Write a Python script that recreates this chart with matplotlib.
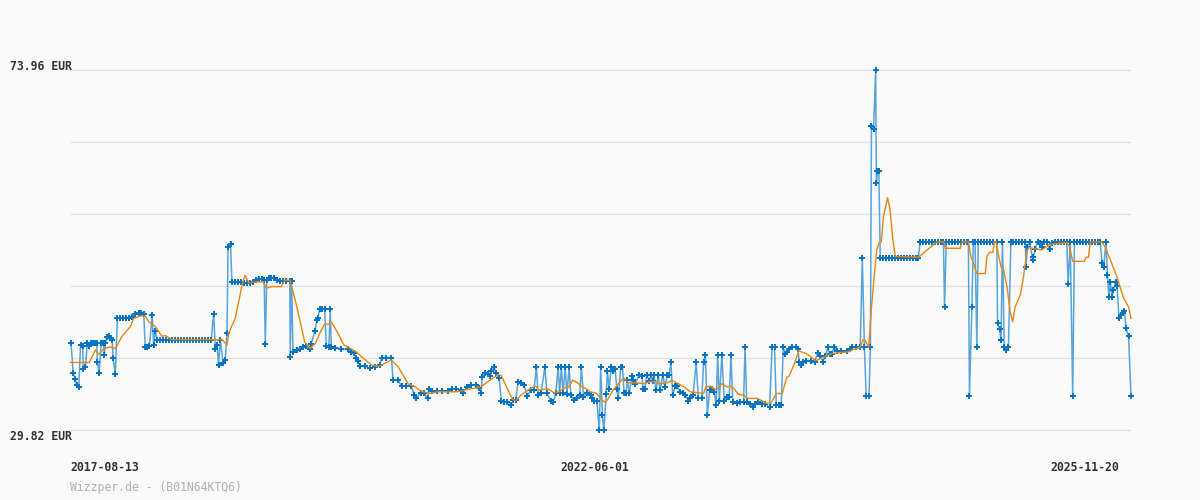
import matplotlib
matplotlib.use("Agg")
import matplotlib.pyplot as plt

# ---------------- data (days since 2017-08-13, price in EUR) ----------------
price_days = [
    3, 9, 15, 19, 25, 30, 36, 38, 44, 49, 55, 61, 66, 72, 76, 78, 83, 89, 95, 98,
    101, 105, 110, 116, 120, 123, 129, 135, 142, 151, 159, 168, 177, 186, 196, 202,
    210, 214, 220, 226, 234, 238, 243, 248,
    256, 265, 273, 282, 290, 299, 308, 316, 325, 333, 342, 350, 359, 367, 376, 384, 393, 402,
    409, 414, 419, 423, 428, 436, 442, 447, 450, 457, 461,
    470, 478, 487, 496, 504, 513, 521, 530, 538, 547, 553, 556, 560, 567, 572, 581, 589,
    598, 607, 615, 626, 627, 631, 635, 645, 654, 664, 673, 683, 687, 697, 703, 706, 711,
    718, 725, 730, 737, 741, 744, 755, 772, 792, 801, 809, 815, 820, 825, 839, 854, 868,
    882, 888, 900, 915, 920, 934, 944, 957, 972, 980, 986, 999, 1008, 1018, 1022, 1032,
    1045, 1059, 1075, 1089, 1098, 1113, 1120, 1130, 1141, 1156, 1165, 1170, 1174, 1181,
    1190, 1196, 1200, 1208, 1212, 1222, 1228, 1236, 1245, 1255, 1262, 1269, 1276, 1284,
    1293, 1302, 1312, 1321, 1328, 1333, 1341, 1352, 1358, 1369, 1376, 1383, 1390, 1394,
    1399, 1404, 1410, 1415, 1421, 1426, 1435, 1444, 1451, 1456, 1462, 1473, 1483, 1486,
    1492, 1500, 1507, 1511, 1516, 1520, 1527, 1530, 1535, 1541, 1547, 1552, 1557, 1561,
    1568, 1573, 1578, 1583, 1587, 1593, 1599, 1604, 1609, 1621, 1628, 1632, 1637, 1642,
    1650, 1654, 1659, 1663, 1668, 1675, 1680, 1688, 1694, 1701, 1706, 1711, 1716, 1723,
    1729, 1737, 1745, 1752, 1761, 1766, 1774, 1783, 1789, 1799, 1804, 1809, 1815, 1821,
    1827, 1834, 1840, 1844, 1849, 1856, 1863, 1870, 1877, 1882, 1887, 1899, 1908, 1918,
    1922, 1927, 1936, 1944, 1951, 1960, 1970, 1979, 1992, 1999, 2006, 2011, 2018, 2025,
    2031, 2037, 2041, 2047, 2056, 2066, 2072, 2077, 2082, 2088, 2096, 2110, 2120, 2129,
    2136, 2144, 2151, 2158, 2163, 2169, 2176, 2183, 2196, 2211, 2220, 2227, 2238, 2250,
    2256, 2262, 2267, 2275, 2279, 2282, 2288, 2294, 2296, 2299, 2303, 2307,
    2315, 2324, 2332, 2341, 2350, 2358, 2367, 2375, 2384, 2392, 2401, 2409, 2415,
    2421, 2429, 2438, 2446, 2455, 2464, 2472, 2481, 2487, 2490, 2495,
    2503, 2512, 2520, 2529, 2538, 2546, 2555, 2558, 2561, 2568, 2572, 2577, 2582, 2586,
    2594, 2603, 2612, 2620, 2629, 2639, 2641, 2647, 2651, 2655, 2660, 2666, 2672, 2679,
    2686, 2694, 2703, 2711, 2720, 2722, 2726, 2732, 2741, 2743, 2748, 2755, 2761, 2767,
    2774, 2781, 2789, 2795, 2805, 2814, 2822, 2831, 2838, 2842, 2848, 2855, 2860,
    2868, 2877, 2885, 2894, 2902, 2911, 2919, 2928, 2933, 2939, 2943, 2950, 2954, 2958,
    2962, 2967, 2971, 2977, 2981, 2987, 2992, 2998, 3002, 3007, 3014, 3021,
]
price_eur = [
    40.45, 36.84, 36.04, 35.34, 35.06, 40.24, 40.12, 37.26, 37.50, 40.45, 40.12, 40.53, 40.53, 40.53, 40.45, 38.20, 36.77, 40.53, 40.53, 38.98,
    40.53, 41.26, 41.34, 41.10, 40.85, 38.60, 36.64, 43.52, 43.60, 43.60, 43.50, 43.60, 43.70, 44.10, 44.15, 44.15,
    44.10, 40.03, 40.03, 40.10, 43.90, 40.30, 42.00, 40.85,
    40.85, 40.85, 40.85, 40.85, 40.85, 40.85, 40.85, 40.85, 40.85, 40.85, 40.85, 40.85, 40.85, 40.85, 40.85, 40.85, 40.85, 40.85,
    44.10, 39.70, 40.24, 37.79, 40.85, 38.07, 38.40, 41.67, 52.20, 52.60, 48.00,
    48.00, 48.00, 48.00, 47.90, 47.80, 47.80, 48.00, 48.20, 48.30, 48.30, 48.20, 40.33, 48.20, 48.40, 48.50, 48.40, 48.20,
    48.10, 48.10, 48.10, 48.10, 38.73, 48.10, 39.40, 39.60, 39.80, 40.00, 40.10, 39.80, 40.40, 41.90, 43.30, 43.60, 44.70,
    44.60, 44.60, 40.12, 39.96, 44.60, 39.96, 39.85, 39.80, 39.70, 39.40, 39.30, 38.60, 38.30, 37.70, 37.70, 37.40, 37.60,
    37.80, 38.70, 38.70, 38.70, 35.90, 35.90, 35.20, 35.20, 35.20, 34.10, 33.70, 34.40, 34.40, 33.70, 34.90, 34.60,
    34.60, 34.60, 34.60, 34.80, 34.90, 34.70, 34.40, 35.10, 35.30, 35.30, 35.00, 34.40, 36.30, 36.80,
    36.70, 36.40, 37.10, 37.50, 36.80, 36.20, 33.40, 33.30, 33.20, 32.90, 33.50, 33.50, 35.70, 35.60,
    35.30, 34.00, 34.70, 34.70, 37.50, 34.10, 34.30, 37.50, 34.30, 33.40, 33.30, 34.30, 37.50, 34.30,
    37.50, 34.30, 37.50, 34.20, 37.50, 34.10, 33.50, 33.70, 34.10, 37.50, 33.90, 34.40, 34.10, 33.70,
    33.40, 33.40, 29.82, 37.50, 31.66, 29.82, 34.20, 37.10, 34.80, 37.50, 37.00, 37.30, 34.90, 33.70,
    37.50, 37.50, 34.30, 34.30, 35.95, 34.30, 36.40, 35.90, 35.50, 36.60, 36.40, 34.90, 34.90, 36.60,
    35.80, 36.60, 35.80, 36.60, 34.70, 36.60, 34.70, 36.60, 35.10, 36.60, 36.60, 38.10, 34.10, 35.20,
    35.20, 34.50, 34.40, 34.10, 33.40, 33.70, 34.10, 38.10, 33.70, 33.70, 38.10, 39.00, 31.66, 34.70,
    34.80, 34.50, 32.90, 39.00, 33.40, 39.00, 33.40, 33.90, 33.90, 39.00, 33.30, 33.10, 33.20, 33.30,
    39.96, 33.30, 33.00, 32.60, 33.00, 33.20, 33.00, 33.00, 32.60, 39.96, 39.96, 32.90, 32.90, 32.90,
    39.96, 39.10, 39.40, 39.80, 40.00, 39.96, 39.80, 38.20, 37.80, 38.20, 38.30, 38.30, 38.20, 39.20,
    38.90, 38.20, 38.90, 39.96, 39.10, 39.10, 40.00, 39.50, 39.50, 39.50, 39.70, 39.96, 40.00, 39.96,
    50.90, 39.96, 34.00, 34.00, 39.96, 67.10, 66.70, 73.96, 60.06, 61.60, 61.60, 50.90,
    50.90, 50.90, 50.90, 50.90, 50.90, 50.90, 50.90, 50.90, 50.90, 50.90, 50.90, 50.90, 50.90,
    52.90, 52.90, 52.90, 52.90, 52.90, 52.90, 52.90, 52.90, 52.90, 44.90, 52.90,
    52.90, 52.90, 52.90, 52.90, 52.90, 52.90, 52.90, 52.90, 34.00, 44.90, 52.90, 52.90, 39.96, 52.90,
    52.90, 52.90, 52.90, 52.90, 52.90, 52.90, 42.90, 42.20, 40.80, 52.90, 39.96, 39.60, 39.96, 52.90,
    52.90, 52.90, 52.90, 52.90, 52.90, 49.80, 52.30, 52.90, 50.70, 51.00, 52.00, 52.90, 52.80, 52.30,
    52.90, 52.90, 52.00, 52.70, 52.90, 52.90, 52.90, 52.90, 52.90, 47.70, 52.90, 34.00, 52.90,
    52.90, 52.90, 52.90, 52.90, 52.90, 52.90, 52.90, 52.90, 52.90, 50.30, 49.80, 52.90, 48.80, 46.10,
    48.00, 46.10, 47.00, 48.00, 47.50, 43.50, 43.90, 44.20, 44.40, 42.30, 41.30, 34.00,
]

avg_days = [
    1, 55, 72, 83, 96, 115, 129, 148, 172, 181, 200, 214, 224, 243, 262, 271, 290, 404,
    433, 447, 452, 471, 490, 498, 509, 550, 559, 573, 602, 611, 626, 645, 668, 683, 699,
    711, 725, 737, 744, 763, 780, 792, 815, 830, 858, 877, 896, 915, 934, 963, 980, 999,
    1027, 1046, 1103, 1132, 1170, 1188, 1219, 1228, 1245, 1260, 1269, 1284, 1307, 1326,
    1336, 1359, 1378, 1393, 1407, 1421, 1431, 1445, 1459, 1473, 1481, 1500, 1514, 1524,
    1533, 1543, 1552, 1566, 1576, 1590, 1614, 1633, 1647, 1666, 1675, 1699, 1714, 1732,
    1752, 1766, 1785, 1804, 1811, 1823, 1837, 1846, 1856, 1870, 1884, 1894, 1903, 1918,
    1927, 1956, 1975, 1982, 1996, 2011, 2028, 2041, 2047, 2063, 2075, 2096, 2115, 2123,
    2139, 2158, 2172, 2191, 2215, 2231, 2250, 2258, 2264, 2274, 2283, 2297, 2305, 2310,
    2316, 2328, 2335, 2343, 2350, 2416, 2468, 2487, 2492, 2535, 2540, 2558, 2565, 2572,
    2582, 2606, 2611, 2618, 2628, 2632, 2637, 2644, 2651, 2657, 2668, 2677, 2684, 2691,
    2706, 2715, 2723, 2729, 2739, 2767, 2791, 2838, 2846, 2855, 2888, 2893, 2900, 2905,
    2938, 2947, 2962, 2981, 3000, 3014, 3021,
]
avg_eur = [
    38.10, 38.10, 39.60, 39.10, 39.80, 40.00, 39.80, 41.30, 42.50, 43.50, 43.80, 43.80, 43.10, 42.50, 41.30, 41.40, 40.90, 40.90,
    40.90, 40.24, 41.70, 43.60, 47.60, 48.80, 47.90, 48.00, 47.20, 47.40, 47.40, 48.20, 48.20, 45.10, 40.65, 39.80, 40.45,
    41.67, 42.80, 42.80, 43.10, 41.67, 40.24, 40.00, 39.40, 38.80, 37.80, 37.60, 38.00, 38.40, 37.60, 35.46, 35.20, 34.60,
    34.30, 34.50, 34.50, 34.80, 35.10, 35.70, 36.60, 36.50, 34.90, 33.60, 33.40, 34.10, 34.80, 35.20,
    34.70, 34.90, 34.40, 34.50, 35.00, 35.10, 35.95, 35.60, 35.10, 34.80, 34.50, 34.30, 33.50, 33.20,
    33.70, 34.50, 35.00, 35.70, 36.20, 35.60, 35.60, 35.50, 35.70, 35.80, 35.50, 35.60, 35.90, 35.50,
    35.00, 34.50, 34.40, 34.30, 35.10, 35.20, 34.80, 34.90, 35.50, 35.10, 35.20, 34.70, 34.20, 34.10,
    33.70, 33.70, 33.30, 33.10, 33.10, 34.30, 34.30, 36.30, 36.40, 38.00, 39.50, 39.20, 38.60, 38.30,
    38.60, 39.00, 39.20, 39.30, 39.40, 39.70, 39.96, 40.90, 40.80, 39.96, 45.40, 51.90, 52.90, 52.90,
    55.97, 58.30, 56.80, 53.10, 51.10, 51.00, 52.90, 52.90, 52.10, 52.10, 52.90, 52.90, 51.10, 50.30,
    49.00, 49.00, 51.10, 51.60, 51.60, 52.90, 52.90, 51.20, 49.80, 49.70, 47.40, 44.30, 43.10, 44.90,
    46.40, 48.60, 51.30, 52.20, 52.10, 51.90, 52.60, 52.80, 52.30, 50.50, 50.50, 51.00, 51.00, 52.90,
    52.90, 52.30, 50.70, 48.60, 46.00, 44.90, 43.50,
]

y_min_label, y_max_label = 29.82, 73.96
x_tick_days = [0, 1396, 2791]
x_tick_labels = ["2017-08-13", "2022-06-01", "2025-11-20"]
last_day = 3021
source_text = "Wizzper.de - (B01N64KTQ6)"

# ---------------- figure ----------------
W, H = 1200, 500
fig = plt.figure(figsize=(12, 5), dpi=100)
fig.patch.set_facecolor("#fafafa")

# axes: x 70..1131 px, y 60..440 px
ax = fig.add_axes([70 / W, 60 / H, (1131 - 70) / W, 380 / H])
ax.set_facecolor("#fafafa")
for s in ax.spines.values():
    s.set_visible(False)

per_px_y = (y_max_label - y_min_label) / 360.0
ax.set_ylim(y_min_label - 10 * per_px_y, y_max_label + 10 * per_px_y)
ax.set_xlim(0, last_day)

# grid lines
n_grid = 6
for i in range(n_grid):
    gv = y_min_label + i * (y_max_label - y_min_label) / (n_grid - 1)
    ax.hlines(gv, 0, last_day, color="#e2e2e2", linewidth=1.0, zorder=1)

# lines
ax.plot(price_days, price_eur, color="#3a95d8", linewidth=1.1, alpha=0.85,
        zorder=2, clip_on=False)
ax.plot(price_days, price_eur, linestyle="none", marker="P", markersize=4.8,
        markeredgewidth=0, color="#0a74c4", zorder=3, clip_on=False)
ax.plot(avg_days, avg_eur, color="#e8860f", linewidth=1.0, zorder=4, clip_on=False)

ax.set_yticks([])
ax.set_xticks(x_tick_days)
ax.set_xticklabels(x_tick_labels)
ax.tick_params(axis="x", length=0, pad=15)
for lbl in ax.get_xticklabels():
    lbl.set_horizontalalignment("left")
    lbl.set_family("DejaVu Sans Mono")
    lbl.set_fontweight("bold")
    lbl.set_fontsize(8.3)
    lbl.set_color("#333333")

mono = dict(family="DejaVu Sans Mono", fontsize=8.3, fontweight="bold", color="#333333")
fig.text(10 / W, 1 - 67 / H, f"{y_max_label:.2f} EUR", ha="left", va="center", **mono)
fig.text(10 / W, 1 - 437 / H, f"{y_min_label:.2f} EUR", ha="left", va="center", **mono)
fig.text(70 / W, 1 - 487 / H, source_text, ha="left", va="center",
         family="DejaVu Sans Mono", fontsize=8.3, color="#b0b0b0")

fig.savefig("out.png", dpi=100, facecolor=fig.get_facecolor())
